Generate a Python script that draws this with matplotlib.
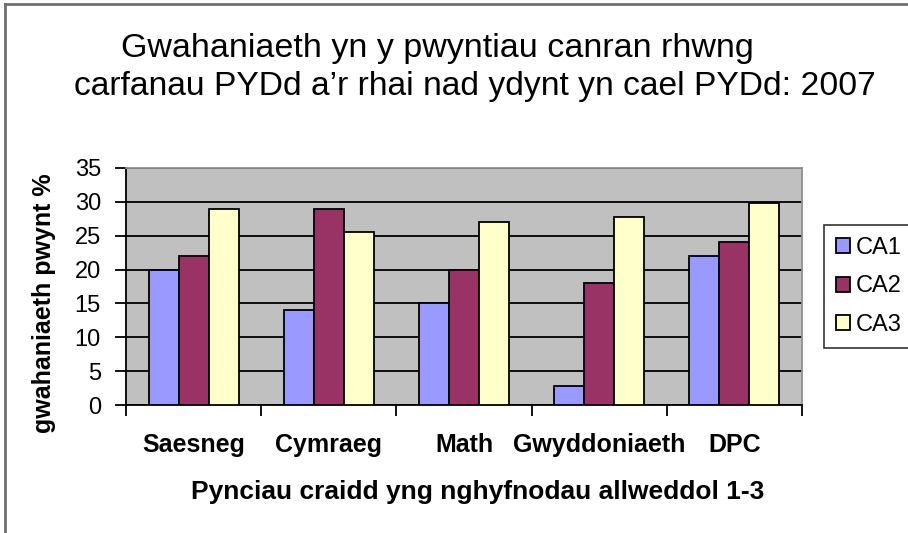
import numpy as np
import matplotlib
matplotlib.use("Agg")
import matplotlib.pyplot as plt
from matplotlib.lines import Line2D

# data
pynciau = ["Saesneg", "Cymraeg", "Math", "Gwyddoniaeth", "DPC"]
ca1 = [20, 14, 15, 2.8, 22]
ca2 = [22, 29, 20, 18, 24]
ca3 = [29, 25.6, 27, 27.8, 29.8]
cyfresi = ["CA1", "CA2", "CA3"]
lliwiau = ["#9999FF", "#993366", "#FFFFCC"]
yticks = [0, 5, 10, 15, 20, 25, 30, 35]

W, H = 908, 533
fig = plt.figure(figsize=(W / 100, H / 100), dpi=100)
fig.patch.set_facecolor("white")

ax = fig.add_axes([126 / W, 1 - 405 / H, (802 - 126) / W, (405 - 168) / H])
ax.set_facecolor("#C0C0C0")

x = np.arange(len(pynciau)) + 0.5
width = 0.222
for i, (vals, name, col) in enumerate(zip([ca1, ca2, ca3], cyfresi, lliwiau)):
    ax.bar(x + (i - 1) * width, vals, width, color=col, edgecolor="black",
           linewidth=1.3, label=name, zorder=3)

ax.set_xlim(0, len(pynciau))
ax.set_ylim(0, 35)
ax.set_yticks(yticks)
ax.set_yticklabels([str(v) for v in yticks], fontsize=17, family="Liberation Sans")
ax.yaxis.grid(True, color="black", linewidth=1.3, zorder=1)
ax.set_axisbelow(True)

# ticks at category boundaries, labels under groups
ax.set_xticks(np.arange(len(pynciau) + 1))
ax.set_xticklabels([])
ax.set_xticks(x, minor=True)
ax.set_xticklabels(pynciau, minor=True, fontsize=18, fontweight="bold",
                   family="Liberation Sans")
ax.tick_params(axis="x", which="minor", length=0, pad=20)
ax.tick_params(axis="x", which="major", length=8, width=1.3, direction="out")
ax.tick_params(axis="y", length=8, width=1.3, direction="out", pad=10)

for s in ["left", "bottom"]:
    ax.spines[s].set_color("black")
    ax.spines[s].set_linewidth(1.3)
for s in ["top", "right"]:
    ax.spines[s].set_color("#909090")
    ax.spines[s].set_linewidth(1.3)

ax.set_xlabel("Pynciau craidd yng nghyfnodau allweddol 1-3", fontsize=19,
              fontweight="bold", family="Liberation Sans")
ax.xaxis.set_label_coords(478 / W, 1 - 480 / H, transform=fig.transFigure)
ax.set_ylabel("gwahaniaeth pwynt %", fontsize=18, fontweight="bold",
              family="Liberation Sans")
ax.yaxis.set_label_coords(56 / W, 1 - 303 / H, transform=fig.transFigure)

fig.text(437 / W, 1 - 48 / H, "Gwahaniaeth yn y pwyntiau canran rhwng",
         ha="center", va="center", fontsize=24.5, family="Liberation Sans")
fig.text(475 / W, 1 - 86 / H, "carfanau PYDd a\u2019r rhai nad ydynt yn cael PYDd: 2007",
         ha="center", va="center", fontsize=24.2, family="Liberation Sans")

leg = ax.legend(loc="upper left", bbox_to_anchor=(824 / W, 1 - 225 / H),
                bbox_transform=fig.transFigure, frameon=True, fancybox=False,
                prop={"family": "Liberation Sans", "size": 17},
                handlelength=0.6, handleheight=0.6, handletextpad=0.25,
                labelspacing=0.7, borderpad=0.5, borderaxespad=0)
leg.get_frame().set_edgecolor("black")
leg.get_frame().set_linewidth(1.2)

# outer chart border (only top and left visible)
fig.add_artist(Line2D([5 / W, 5 / W], [0, 1 - 4 / H], color="#707070", lw=2))
fig.add_artist(Line2D([5 / W, 1], [1 - 4 / H, 1 - 4 / H], color="#707070", lw=2))

fig.savefig("out.png", dpi=100)
